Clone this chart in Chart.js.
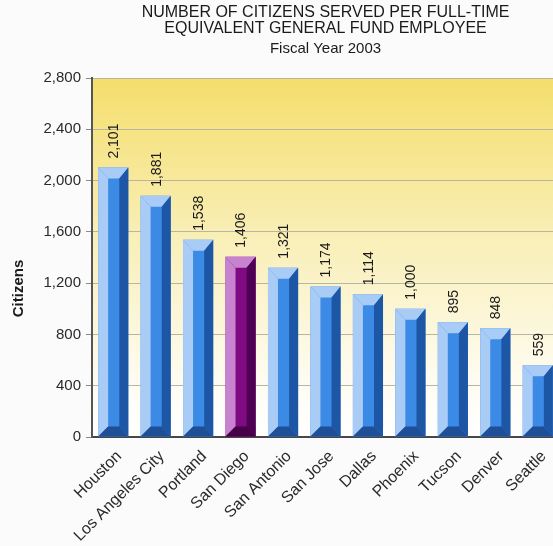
<!DOCTYPE html>
<html>
<head>
<meta charset="utf-8">
<script src="https://cdn.jsdelivr.net/npm/chart.js@4/dist/chart.umd.min.js"></script>
<style>
  html, body { margin: 0; padding: 0; background: #fbfbfb; overflow: hidden; }
  #wrap { width: 559px; height: 546px; }
</style>
</head>
<body>
<div id="wrap"><canvas id="c" width="559" height="546"></canvas></div>
<script>
// Fiscal Year 2003: citizens served per full-time equivalent general fund employee
const cities = ['Houston', 'Los Angeles City', 'Portland', 'San Diego', 'San Antonio',
                'San Jose', 'Dallas', 'Phoenix', 'Tucson', 'Denver', 'Seattle'];
const citizens = [2101, 1881, 1538, 1406, 1321, 1174, 1114, 1000, 895, 848, 559];
const yTicks = [0, 400, 800, 1200, 1600, 2000, 2400, 2800];
const highlightCity = 'San Diego';
const yCaption = 'Citizens';

const FONT = '"Liberation Sans", Arial, sans-serif';

const blueShades = { light: '#a9ccf7', front: '#3b8be6', dark: '#1d56a5', bottom: '#1f4f96' };
const purpleShades = { light: '#c783cf', front: '#7f0a82', dark: '#4e0052', bottom: '#450048' };
const shadesFor = i => cities[i] === highlightCity ? purpleShades : blueShades;

const fmt = v => v.toLocaleString('en-US');

// yellow-to-white wash behind the plot
const plotBackground = {
  id: 'plotBackground',
  beforeDraw(chart) {
    const { ctx, chartArea: a } = chart;
    const g = ctx.createLinearGradient(0, a.top, 0, a.bottom);
    g.addColorStop(0, '#f5de6c');
    g.addColorStop(0.45, '#f9efb8');
    g.addColorStop(0.85, '#fefcf2');
    g.addColorStop(1, '#ffffff');
    ctx.save();
    ctx.fillStyle = g;
    ctx.fillRect(a.left, a.top, a.right - a.left, a.bottom - a.top);
    ctx.restore();
  }
};

// bevelled frame on every bar: light left/top, dark right/bottom
const bevelBars = {
  id: 'bevelBars',
  afterDatasetsDraw(chart) {
    const ctx = chart.ctx;
    const meta = chart.getDatasetMeta(0);
    const poly = (pts, color) => {
      ctx.beginPath();
      ctx.moveTo(pts[0][0], pts[0][1]);
      for (let k = 1; k < pts.length; k++) ctx.lineTo(pts[k][0], pts[k][1]);
      ctx.closePath();
      ctx.fillStyle = color;
      ctx.fill();
    };
    ctx.save();
    meta.data.forEach((bar, i) => {
      const p = bar.getProps(['x', 'y', 'base', 'width'], true);
      const L = p.x - p.width / 2, R = p.x + p.width / 2, T = p.y, B = p.base;
      const iL = L + 10, iR = R - 9, iT = T + 11, iB = B - 10;
      const s = shadesFor(i);
      poly([[iL, iT], [iR, iT], [iR, iB], [iL, iB]], s.front);
      poly([[L, T], [iL, iT], [iL, iB], [L, B]], s.light);
      poly([[L, T], [R, T], [iR, iT], [iL, iT]], s.light);
      poly([[R, T], [R, B], [iR, iB], [iR, iT]], s.dark);
      poly([[L, B], [iL, iB], [iR, iB], [R, B]], s.bottom);
    });
    ctx.restore();
  }
};

// vertical value labels above the bars
const valueLabels = {
  id: 'valueLabels',
  afterDatasetsDraw(chart) {
    const ctx = chart.ctx;
    const meta = chart.getDatasetMeta(0);
    ctx.save();
    ctx.font = '14px ' + FONT;
    ctx.fillStyle = '#1a1a1a';
    ctx.textAlign = 'left';
    ctx.textBaseline = 'middle';
    meta.data.forEach((bar, i) => {
      ctx.save();
      ctx.translate(bar.x + 1, bar.y - 9);
      ctx.rotate(-Math.PI / 2);
      ctx.fillText(fmt(citizens[i]), 0, 0);
      ctx.restore();
    });
    ctx.restore();
  }
};

// rotated caption for the value axis, set a little below the axis middle
const axisCaption = {
  id: 'axisCaption',
  afterDraw(chart) {
    const { ctx, chartArea: a } = chart;
    ctx.save();
    ctx.font = 'bold 15px ' + FONT;
    ctx.fillStyle = '#1a1a1a';
    ctx.textAlign = 'center';
    ctx.textBaseline = 'middle';
    ctx.translate(19, (a.top + a.bottom) / 2 + 31);
    ctx.rotate(-Math.PI / 2);
    ctx.fillText(yCaption, 0, 0);
    ctx.restore();
  }
};

new Chart(document.getElementById('c'), {
  type: 'bar',
  data: {
    labels: cities,
    datasets: [{
      data: citizens,
      backgroundColor: cities.map((c, i) => shadesFor(i).front),
      borderWidth: 0,
      barPercentage: 0.71,
      categoryPercentage: 1.0
    }]
  },
  options: {
    responsive: false,
    animation: false,
    layout: { padding: { left: 6, right: 0, top: 0, bottom: 0 } },
    plugins: {
      legend: { display: false },
      tooltip: { enabled: false },
      title: {
        display: true,
        fullSize: false,
        text: ['NUMBER OF CITIZENS SERVED PER FULL-TIME', 'EQUIVALENT GENERAL FUND EMPLOYEE'],
        color: '#1a1a1a',
        font: { family: FONT, size: 16, weight: 'normal', lineHeight: 1.0 },
        padding: { top: 5, bottom: 0 }
      },
      subtitle: {
        display: true,
        fullSize: false,
        text: 'Fiscal Year 2003',
        color: '#1a1a1a',
        font: { family: FONT, size: 15, weight: 'normal', lineHeight: 1.2 },
        padding: { top: 3, bottom: 20 }
      }
    },
    scales: {
      x: {
        grid: { display: false },
        border: { display: true, color: '#474747', width: 2 },
        ticks: {
          color: '#2a2a2a',
          font: { family: FONT, size: 16 },
          minRotation: 45,
          maxRotation: 45,
          labelOffset: 6,
          padding: 2,
          autoSkip: false
        },
        afterFit(scale) { scale.height = 109; }
      },
      y: {
        min: 0,
        max: 2800,
        afterBuildTicks(scale) { scale.ticks = yTicks.map(v => ({ value: v })); },
        grid: { color: '#b9b5a3', lineWidth: 1, tickLength: 6, tickColor: '#8a8a8a' },
        border: { display: true, color: '#555555', width: 2 },
        ticks: {
          color: '#2a2a2a',
          font: { family: FONT, size: 15 },
          padding: 5,
          callback: v => fmt(v)
        },
        afterFit(scale) { scale.width = 86; }
      }
    }
  },
  plugins: [plotBackground, bevelBars, valueLabels, axisCaption]
});
</script>
</body>
</html>
